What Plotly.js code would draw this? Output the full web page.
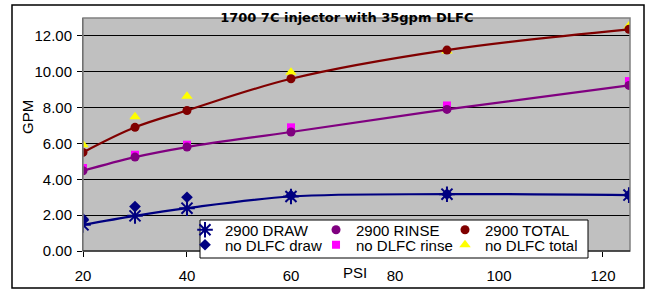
<!DOCTYPE html>
<html><head><meta charset="utf-8">
<script src="https://cdn.plot.ly/plotly-3.0.1.min.js"></script>
<style>html,body{margin:0;padding:0;background:#fff;}#chart{width:647px;height:290px;}</style>
</head><body><div id="chart"></div>
<script>
const psi = [20, 30, 40, 60, 90, 125];
const draw2900 = [1.46, 1.96, 2.39, 3.04, 3.17, 3.12];
const rinse2900 = [4.48, 5.24, 5.80, 6.64, 7.90, 9.24];
const total2900 = [5.50, 6.90, 7.84, 9.61, 11.21, 12.37];
const drawNo = [1.79, 2.48, 3.00, 3.10, 3.17, 3.12];
const rinseNo = [4.63, 5.37, 5.93, 6.90, 8.12, 9.48];
const totalNo = [5.93, 7.49, 8.64, 9.98, 11.16, 12.56];
const xTicks = [20, 40, 60, 80, 100, 120];
const yTicks = [0, 2, 4, 6, 8, 10, 12];
const yTickText = yTicks.map(v => v.toFixed(2));

const FONT = 'Arial, "Liberation Sans", sans-serif';

function lineTrace(y, color) {
  return {x: psi, y: y, mode: 'lines', line: {color: color, width: 2.2, shape: 'spline', smoothing: 1},
          showlegend: false, hoverinfo: 'skip'};
}
function markTrace(y, name, symbol, color, size, legend) {
  return {x: psi, y: y, mode: 'markers', name: name, legend: legend,
          marker: {symbol: symbol, color: color, size: size, line: {color: color, width: symbol.indexOf('open') >= 0 ? 2 : 0}}};
}

const data = [
  markTrace(drawNo, 'no DLFC draw', 'diamond', '#000080', 9, 'legend4'),
  markTrace(rinseNo, 'no DLFC rinse', 'square', '#FF00FF', 8, 'legend5'),
  markTrace(totalNo, 'no DLFC total', 'triangle-up', '#FFFF00', 10, 'legend6'),
  lineTrace(draw2900, '#000080'),
  lineTrace(rinse2900, '#800080'),
  lineTrace(total2900, '#800000'),
  markTrace(draw2900, '2900 DRAW', 'asterisk-open', '#000080', 13, 'legend'),
  markTrace(rinse2900, '2900 RINSE', 'circle', '#800080', 9, 'legend2'),
  markTrace(total2900, '2900 TOTAL', 'circle', '#800000', 9, 'legend3')
];

function leg(x, y) {
  return {orientation: 'v', x: x, xanchor: 'left', y: y, yanchor: 'top', bgcolor: 'rgba(0,0,0,0)',
          borderwidth: 0, font: {family: FONT, size: 15, color: '#000'}, tracegroupgap: 0, itemwidth: 30};
}
const colX = [0.1865, 0.426, 0.6618];
const rowY = [0.1609, 0.0966];

const layout = {
  width: 647, height: 290,
  margin: {l: 83, r: 17, t: 18, b: 39},
  paper_bgcolor: '#FFFFFF', plot_bgcolor: '#C0C0C0',
  font: {family: FONT, size: 15, color: '#000'},
  title: {text: '<b>1700 7C injector with 35gpm DLFC</b>', font: {family: '"DejaVu Sans", sans-serif', size: 13, color: '#000'},
          x: 0.536, xanchor: 'center', xref: 'container', y: 0.941, yanchor: 'middle', yref: 'container'},
  xaxis: {range: [20, 125.2], tickvals: xTicks, ticktext: xTicks.map(String), showgrid: false, zeroline: false,
          ticks: 'outside', ticklen: 5, tickcolor: '#000', showline: false, ticklabelstandoff: 6,
          tickfont: {family: FONT, size: 15}},
  yaxis: {range: [0, 13], tickvals: yTicks, ticktext: yTickText, showgrid: true, gridcolor: '#000', gridwidth: 1,
          zeroline: false, ticks: 'outside', ticklen: 5, tickcolor: '#000', showline: true, linecolor: '#404040',
          linewidth: 1, ticklabelstandoff: 2, tickfont: {family: FONT, size: 15}},
  showlegend: true,
  legend: leg(colX[0], rowY[0]),
  legend2: leg(colX[1], rowY[0]),
  legend3: leg(colX[2], rowY[0]),
  legend4: leg(colX[0], rowY[1]),
  legend5: leg(colX[1], rowY[1]),
  legend6: leg(colX[2], rowY[1]),
  shapes: [
    {type: 'rect', xref: 'paper', yref: 'paper', x0: 0, x1: 1, y0: 0, y1: 1, line: {color: '#808080', width: 1.5}, layer: 'above'},
    {type: 'line', xref: 'paper', yref: 'paper', x0: 0, x1: 1, y0: 0, y1: 0, line: {color: '#000', width: 1}, layer: 'above'},
    {type: 'rect', xref: 'paper', yref: 'paper', x0: (200 - 83) / 547, x1: (588 - 83) / 547, y0: (251 - 258) / 233, y1: (251 - 220) / 233,
     fillcolor: '#FFFFFF', line: {color: '#000', width: 1}, layer: 'above'},
    {type: 'rect', xref: 'paper', yref: 'paper', x0: -0.1298, x1: 1.0256, y0: -0.1588, y1: 1.0558, line: {color: '#000', width: 1.5}}
  ],
  annotations: [
    {text: 'PSI', xref: 'paper', yref: 'paper', x: 0.497, y: -0.094, xanchor: 'center', yanchor: 'middle', showarrow: false,
     font: {family: FONT, size: 15}},
    {text: 'GPM', xref: 'paper', yref: 'paper', x: (27 - 83) / 547, y: (251 - 117) / 233, xanchor: 'center', yanchor: 'middle',
     textangle: -90, showarrow: false, font: {family: FONT, size: 15}}
  ]
};

Plotly.newPlot('chart', data, layout, {displayModeBar: false, staticPlot: true});
</script></body></html>
